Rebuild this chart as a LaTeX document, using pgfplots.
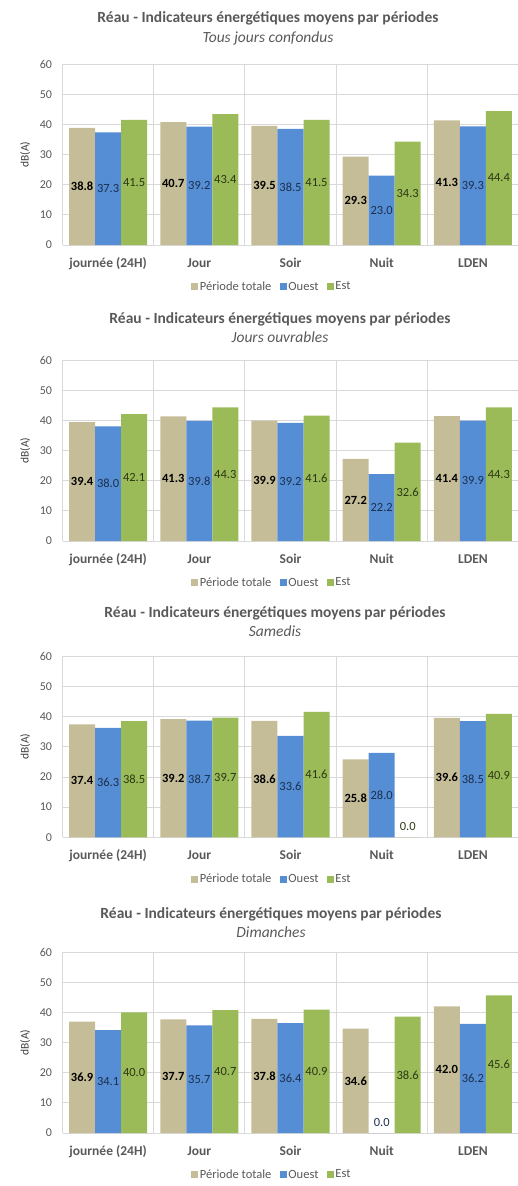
\documentclass[border=0pt]{standalone}
\usepackage{pgfplots}
\pgfplotsset{compat=1.18}
\usepackage{fontspec}
\setmainfont{Carlito}
\definecolor{ctan}{HTML}{C4BD97}
\definecolor{cblue}{HTML}{558ED5}
\definecolor{cgreen}{HTML}{9BBB59}
\definecolor{ctxt}{HTML}{595959}
\definecolor{cgrid}{HTML}{D9D9D9}
\definecolor{lblue}{HTML}{1C2F4D}
\definecolor{lgreen}{HTML}{2C3813}
\pgfplotsset{
  panel/.style={
    /pgf/number format/assume math mode=true,
    ybar=0pt, bar width=26pt,
    scale only axis, width=456pt, height=181pt,
    xmin=-0.5, xmax=4.5, ymin=0, ymax=60,
    xtick={0,...,4},
    xticklabels={journée (24H),Jour,Soir,Nuit,LDEN},
    minor xtick={-0.5,0.5,...,4.5},
    xminorgrids=true, xmajorgrids=false, ymajorgrids=true,
    minor grid style={cgrid, line width=0.9pt},
    major grid style={cgrid, line width=0.9pt},
    ytick={0,10,...,60},
    major tick length=0pt, minor tick length=0pt,
    axis line style={draw=none},
    xticklabel style={font=\bfseries\fontsize{13.5}{15}\selectfont, text=ctxt, anchor=base, yshift=-22.5pt},
    yticklabel style={font=\fontsize{12}{14}\selectfont, text=ctxt, xshift=-7pt},
    ylabel={dB(A)},
    ylabel style={at={(axis description cs:-0.082,0.5)}, anchor=center, font=\fontsize{11.5}{13}\selectfont, text=black!75},
    legend columns=3,
    legend style={at={(axis description cs:0.4587,-0.2304)}, anchor=center, draw=none, fill=none,
      font=\fontsize{12.5}{14}\selectfont, text=ctxt, column sep=0pt,
      nodes={inner sep=1.5pt}},
    legend image code/.code={\fill[##1] (0pt,-3.5pt) rectangle (7pt,3.5pt);},
    visualization depends on={rawy \as \rawy},
    nodes near coords={\pgfmathprintnumber[fixed,fixed zerofill,precision=1,assume math mode=true]{\pgfplotspointmeta}},
    every node near coord/.append style={anchor=center, font=\fontsize{12.5}{14}\selectfont,
      yshift={(\rawy==0)*11pt - 1.50833*\rawy*1pt}},
  },
  ptan/.style={fill=ctan, draw=none, every node near coord/.append style={text=black, font=\bfseries\fontsize{12.5}{14}\selectfont}},
  pblue/.style={fill=cblue, draw=none, every node near coord/.append style={text=lblue}},
  pgreen/.style={fill=cgreen, draw=none, every node near coord/.append style={text=lgreen}},
}
\newcommand{\leg}{\legend{Période totale\rule{7pt}{0pt}, Ouest\rule{7pt}{0pt}, Est}}
\newcommand{\ptitle}[4]{%
  \node[anchor=base, text=ctxt, font=\bfseries\fontsize{15.5}{17}\selectfont] at (#1pt,-#2pt) {Réau - Indicateurs énergétiques moyens par périodes};
  \node[anchor=base, text=ctxt, font=\itshape\fontsize{15.5}{17}\selectfont] at (#1pt,-#3pt) {#4};}
\begin{document}
\begin{tikzpicture}
\useasboundingbox (0,0) rectangle (517pt,-1186pt);
% Panel 1
\ptitle{268}{22.5}{42}{Tous jours confondus}
\begin{axis}[panel, at={(62.5pt,-245pt)}, anchor=south west]
\addplot[ptan] coordinates {(0,38.8) (1,40.7) (2,39.5) (3,29.3) (4,41.3)};
\addplot[pblue] coordinates {(0,37.3) (1,39.2) (2,38.5) (3,23.0) (4,39.3)};
\addplot[pgreen] coordinates {(0,41.5) (1,43.4) (2,41.5) (3,34.3) (4,44.4)};
\leg
\end{axis}
% Panel 2
\ptitle{280}{323.5}{342}{Jours ouvrables}
\begin{axis}[panel, at={(62.5pt,-541pt)}, anchor=south west]
\addplot[ptan] coordinates {(0,39.4) (1,41.3) (2,39.9) (3,27.2) (4,41.4)};
\addplot[pblue] coordinates {(0,38.0) (1,39.8) (2,39.2) (3,22.2) (4,39.9)};
\addplot[pgreen] coordinates {(0,42.1) (1,44.3) (2,41.6) (3,32.6) (4,44.3)};
\leg
\end{axis}
% Panel 3
\ptitle{275}{617.5}{636}{Samedis}
\begin{axis}[panel, at={(62.5pt,-837.3pt)}, anchor=south west]
\addplot[ptan] coordinates {(0,37.4) (1,39.2) (2,38.6) (3,25.8) (4,39.6)};
\addplot[pblue] coordinates {(0,36.3) (1,38.7) (2,33.6) (3,28.0) (4,38.5)};
\addplot[pgreen] coordinates {(0,38.5) (1,39.7) (2,41.6) (3,0.0) (4,40.9)};
\leg
\end{axis}
% Panel 4
\ptitle{271}{918}{937}{Dimanches}
\begin{axis}[panel, at={(62.5pt,-1133pt)}, anchor=south west]
\addplot[ptan] coordinates {(0,36.9) (1,37.7) (2,37.8) (3,34.6) (4,42.0)};
\addplot[pblue] coordinates {(0,34.1) (1,35.7) (2,36.4) (3,0.0) (4,36.2)};
\addplot[pgreen] coordinates {(0,40.0) (1,40.7) (2,40.9) (3,38.6) (4,45.6)};
\leg
\end{axis}
\end{tikzpicture}
\end{document}
